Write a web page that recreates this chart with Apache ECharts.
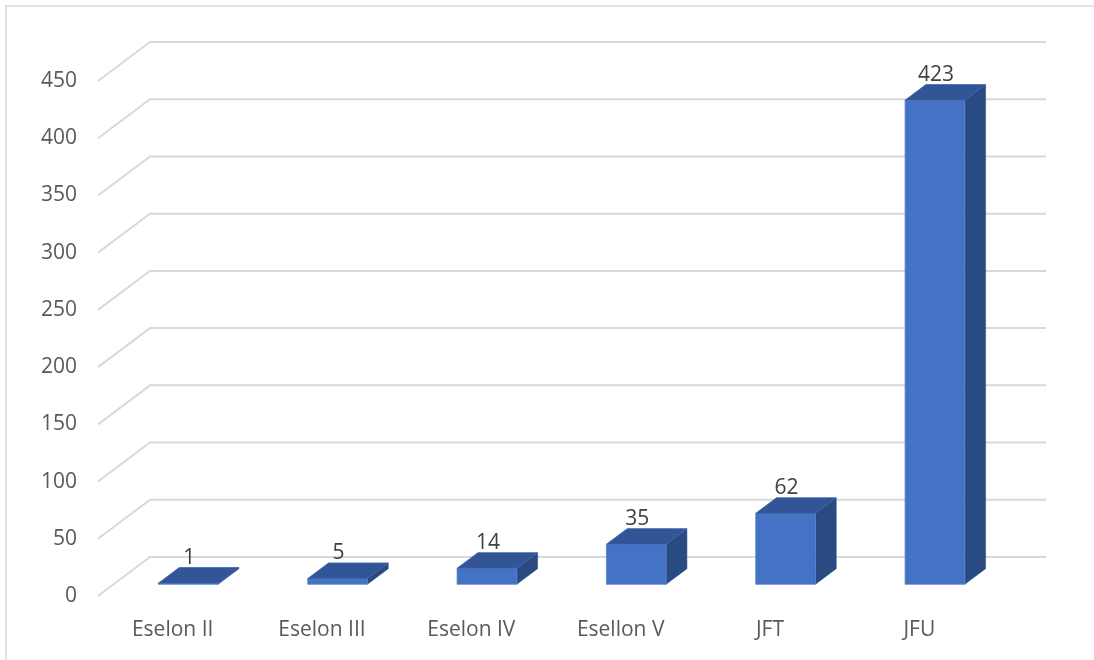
<!DOCTYPE html>
<html>
<head>
<meta charset="utf-8">
<script src="https://cdn.jsdelivr.net/npm/echarts@6/dist/echarts.min.js"></script>
<style>
  html, body { margin: 0; padding: 0; background: #ffffff; }
  #chart { width: 1094px; height: 660px; }
</style>
</head>
<body>
<div id="chart"></div>
<script>
// Categories and counts
const categories = ['Eselon II', 'Eselon III', 'Eselon IV', 'Esellon V', 'JFT', 'JFU'];
const counts = [1, 5, 14, 35, 62, 423];
const yTicks = [0, 50, 100, 150, 200, 250, 300, 350, 400, 450];

// Oblique projection of the floor depth (front plane -> back wall)
const DEPTH_X = 52;
const DEPTH_Y = 39;
// Bars sit in the middle of the depth
const BAR_NEAR = 0.3;
const BAR_FAR = 0.7;
const BAR_WIDTH_RATIO = 0.4;

const FONT = '"Open Sans", "Noto Sans", sans-serif';
const FONT_SIZE = 21;

const chart = echarts.init(document.getElementById('chart'), null, { renderer: 'canvas' });

function renderGridLine(params, api) {
  const cs = params.coordSys;
  const y = api.coord([0, api.value(1)])[1];
  return {
    type: 'polyline',
    silent: true,
    shape: {
      points: [
        [cs.x, y],
        [cs.x + DEPTH_X, y - DEPTH_Y],
        [cs.x + cs.width + DEPTH_X, y - DEPTH_Y]
      ]
    },
    style: { stroke: '#d9d9d9', lineWidth: 2, fill: null }
  };
}

function renderBar(params, api) {
  const idx = api.value(0);
  const val = api.value(1);
  const base = api.coord([idx, 0]);
  const top = api.coord([idx, val]);
  const bw = api.size([1, 0])[0] * BAR_WIDTH_RATIO;
  const dx = DEPTH_X * (BAR_FAR - BAR_NEAR);
  const dy = DEPTH_Y * (BAR_FAR - BAR_NEAR);
  const x0 = base[0] - bw / 2 + DEPTH_X * BAR_NEAR;
  const yB = base[1] - DEPTH_Y * BAR_NEAR;
  const yT = top[1] - DEPTH_Y * BAR_NEAR;
  const h = yB - yT;
  return {
    type: 'group',
    children: [
      {
        type: 'polygon',
        shape: { points: [[x0 + bw, yT], [x0 + bw + dx, yT - dy], [x0 + bw + dx, yB - dy], [x0 + bw, yB]] },
        style: { fill: '#2a4a82', stroke: '#2a4a82', lineWidth: 0.5 }
      },
      {
        type: 'rect',
        shape: { x: x0, y: yT, width: bw, height: h },
        style: { fill: '#4472c4', stroke: '#5b84cc', lineWidth: 0.8 }
      },
      {
        type: 'polygon',
        shape: { points: [[x0, yT], [x0 + bw, yT], [x0 + bw + dx, yT - dy], [x0 + dx, yT - dy]] },
        style: { fill: '#315596', stroke: '#3d63a8', lineWidth: 0.8 }
      },
      {
        type: 'text',
        style: {
          x: x0 + bw / 2 + 1,
          y: yT - dy + 1,
          text: String(val),
          textAlign: 'center',
          textVerticalAlign: 'bottom',
          fill: '#404040',
          font: FONT_SIZE + 'px ' + FONT
        }
      }
    ]
  };
}

chart.setOption({
  animation: false,
  backgroundColor: '#ffffff',
  graphic: [
    {
      type: 'rect',
      shape: { x: 6, y: 6, width: 1200, height: 660 },
      style: { fill: null, stroke: '#d9d9d9', lineWidth: 1.5 },
      silent: true
    }
  ],
  grid: { left: 98, right: 100, top: 81, bottom: 64, containLabel: false },
  xAxis: {
    type: 'category',
    data: categories,
    axisLine: { show: false },
    axisTick: { show: false },
    splitLine: { show: false },
    axisLabel: { color: '#595959', fontSize: FONT_SIZE, fontFamily: FONT, margin: 24 }
  },
  yAxis: {
    type: 'value',
    min: 0,
    max: 450,
    interval: 50,
    axisLine: { show: false },
    axisTick: { show: false },
    splitLine: { show: false },
    axisLabel: { color: '#595959', fontSize: FONT_SIZE, fontFamily: FONT, margin: 21 }
  },
  series: [
    {
      type: 'custom',
      name: 'grid',
      renderItem: renderGridLine,
      data: yTicks.map(function (t) { return [0, t]; }),
      z: 1,
      silent: true
    },
    {
      type: 'custom',
      name: 'Jumlah',
      renderItem: renderBar,
      data: counts.map(function (v, i) { return [i, v]; }),
      z: 2
    }
  ]
});
</script>
</body>
</html>
